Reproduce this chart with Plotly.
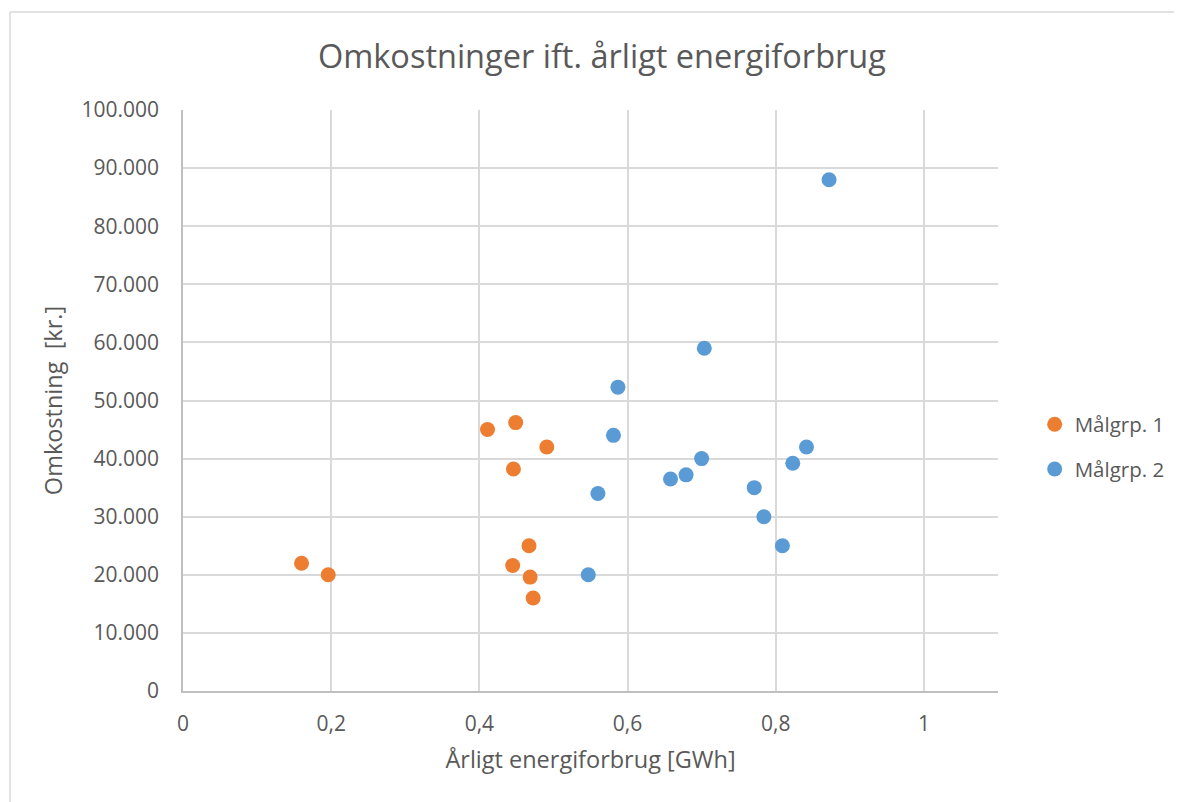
import plotly.graph_objects as go

# Data
grp1_x = [0.160, 0.196, 0.411, 0.449, 0.491, 0.446, 0.467, 0.445, 0.4685, 0.4726]
grp1_y = [22000, 20000, 45000, 46200, 42000, 38200, 25000, 21600, 19600, 16000]

grp2_x = [0.872, 0.7036, 0.587, 0.581, 0.560, 0.658, 0.679, 0.700, 0.771, 0.784, 0.809, 0.823, 0.8415, 0.547]
grp2_y = [88000, 59000, 52300, 44000, 34000, 36500, 37200, 40000, 35000, 30000, 25000, 39200, 42000, 20000]

series_names = ["Målgrp. 1", "Målgrp. 2"]
colors = ["#ED7D31", "#5B9BD5"]

title_text = "Omkostninger ift. årligt energiforbrug"
x_title = "Årligt energiforbrug [GWh]"
y_title = "Omkostning\u00a0 [kr.]"

FONT = "'Open Sans', sans-serif"
TXT = "#595959"
GRID = "#D9D9D9"

fig = go.Figure()
for name, xs, ys, c in zip(series_names, [grp1_x, grp2_x], [grp1_y, grp2_y], colors):
    fig.add_trace(go.Scatter(
        x=xs, y=ys, mode="markers", name=name, legendgroup=name,
        marker=dict(color=c, size=15, line=dict(width=0)),
    ))

fig.update_layout(
    width=1174, height=794,
    paper_bgcolor="white", plot_bgcolor="white",
    separators=",.",
    margin=dict(l=175, r=184, t=102, b=111),
    font=dict(family=FONT, color=TXT, size=19),
    title=dict(text=title_text, x=0.514, xref="paper", xanchor="center",
               y=1 - 49 / 794, yref="container", yanchor="middle",
               font=dict(family=FONT, size=32.5, color=TXT)),
    showlegend=True,
    legend=dict(x=1.045, xanchor="left", y=0.42, yanchor="middle",
                font=dict(family=FONT, size=20.5, color=TXT),
                tracegroupgap=15, itemwidth=30, borderwidth=0,
                bgcolor="rgba(0,0,0,0)"),
    shapes=[
        dict(type="line", xref="paper", yref="paper", x0=-0.2123, x1=1.3,
             y0=1.1687, y1=1.1687, line=dict(color="#D9D9D9", width=1.5)),
        dict(type="line", xref="paper", yref="paper", x0=-0.2123, x1=-0.2123,
             y0=1.1687, y1=-0.2, line=dict(color="#D9D9D9", width=1.5)),
    ],
)

fig.update_xaxes(
    range=[0, 1.1], dtick=0.2, tick0=0,
    showgrid=True, gridcolor=GRID, gridwidth=1.5,
    showline=True, linecolor="#BFBFBF", linewidth=1.5,
    zeroline=False, ticks="", ticklabelstandoff=13,
    tickfont=dict(family=FONT, size=21, color=TXT),
    title=dict(text=x_title, standoff=16, font=dict(family=FONT, size=23.5, color=TXT)),
)
fig.update_yaxes(
    range=[0, 100000], dtick=10000, tick0=0, tickformat=",d",
    showgrid=True, gridcolor=GRID, gridwidth=1.5,
    showline=True, linecolor="#BFBFBF", linewidth=1.5,
    zeroline=False, ticks="", ticklabelstandoff=18,
    tickfont=dict(family=FONT, size=21, color=TXT),
    title=dict(text=y_title, standoff=12, font=dict(family=FONT, size=23.5, color=TXT)),
)

fig.write_html("out.html")
